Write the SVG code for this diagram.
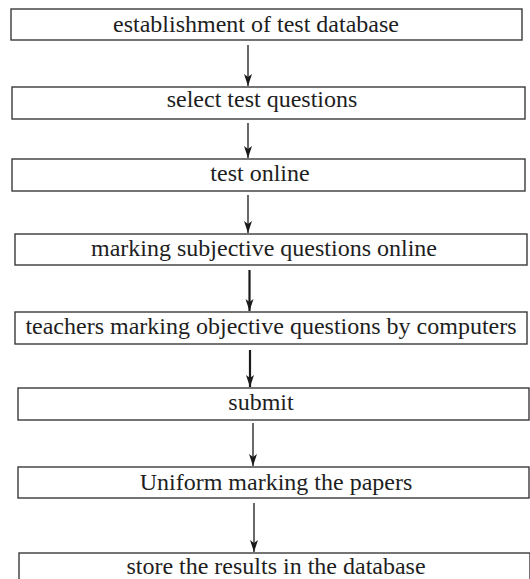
<svg xmlns="http://www.w3.org/2000/svg" width="530" height="579" viewBox="0 0 530 579">
  <defs>
    <style>
      .box { fill: #ffffff; stroke: #3a3a3a; stroke-width: 1.4; }
      .lbl { font-size: 24px; fill: #1e1e1e; text-anchor: middle; }
      .conn { stroke: #1a1a1a; stroke-width: 1.3; fill: none; marker-end: url(#ah); }
      .thick { stroke-width: 2.2; }
    </style>
    <marker id="ah" markerUnits="userSpaceOnUse" markerWidth="13" markerHeight="9" refX="12" refY="4.5" orient="auto">
      <path d="M0,0.5 L12,4.5 L0,8.5 L3,4.5 Z" fill="#1a1a1a"/>
    </marker>
  </defs>
  <rect width="530" height="579" fill="#ffffff"/>

  <g id="connectors">
    <line class="conn" x1="248" y1="45" x2="248" y2="86"/>
    <line class="conn" x1="248" y1="123" x2="248" y2="158"/>
    <line class="conn" x1="248" y1="195" x2="248" y2="233"/>
    <line class="conn thick" x1="249.5" y1="270" x2="249.5" y2="311"/>
    <line class="conn thick" x1="250" y1="350" x2="250" y2="387"/>
    <line class="conn" x1="253" y1="423" x2="253" y2="466"/>
    <line class="conn" x1="254" y1="503" x2="254" y2="552"/>
  </g>

  <g id="n1">
    <rect class="box" x="11" y="9" width="511" height="31"/>
    <text class="lbl" font-family="Liberation Serif" x="256" y="32">establishment of test database</text>
  </g>
  <g id="n2">
    <rect class="box" x="12" y="87" width="513" height="32"/>
    <text class="lbl" font-family="Liberation Serif" x="262" y="107">select test questions</text>
  </g>
  <g id="n3">
    <rect class="box" x="12" y="159" width="513" height="32"/>
    <text class="lbl" font-family="Liberation Serif" x="260" y="181">test online</text>
  </g>
  <g id="n4">
    <rect class="box" x="15" y="234" width="512" height="31"/>
    <text class="lbl" font-family="Liberation Serif" x="264" y="256">marking subjective questions online</text>
  </g>
  <g id="n5">
    <rect class="box" x="15" y="312" width="512" height="32"/>
    <text class="lbl" font-family="Liberation Serif" x="271" y="334">teachers marking objective questions by computers</text>
  </g>
  <g id="n6">
    <rect class="box" x="18" y="388" width="511" height="32"/>
    <text class="lbl" font-family="Liberation Serif" x="261" y="410">submit</text>
  </g>
  <g id="n7">
    <rect class="box" x="18" y="467" width="511" height="31"/>
    <text class="lbl" font-family="Liberation Serif" x="276" y="490">Uniform marking the papers</text>
  </g>
  <g id="n8">
    <rect class="box" x="19" y="553" width="511" height="40"/>
    <text class="lbl" font-family="Liberation Serif" x="276" y="574">store the results in the database</text>
  </g>
</svg>
